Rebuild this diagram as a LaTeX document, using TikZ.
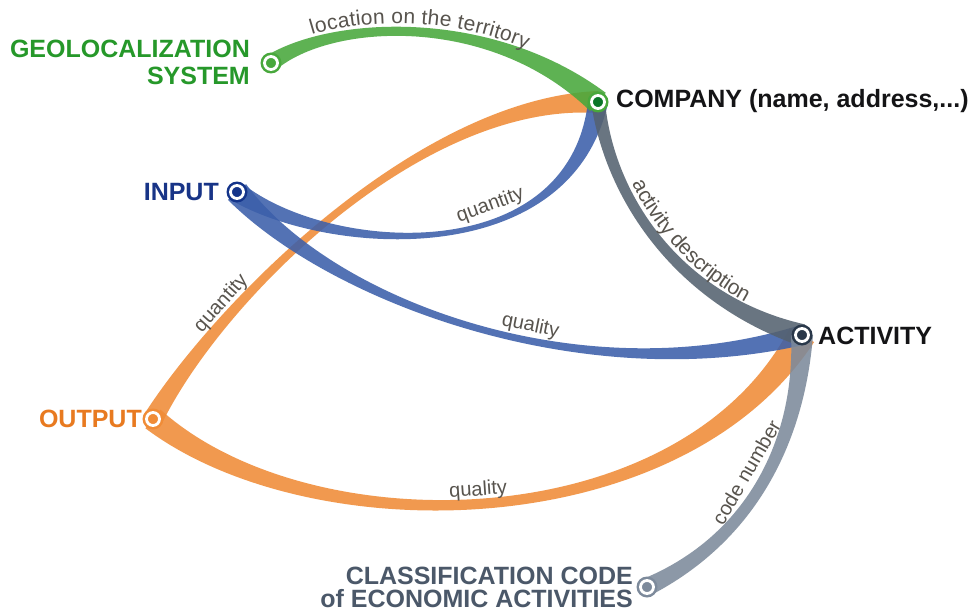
\documentclass[tikz,border=0pt]{standalone}
\usepackage{fontspec}
\setmainfont{Liberation Sans}
\usetikzlibrary{calc,decorations.text}
\definecolor{cGreen}{RGB}{72,168,60}
\definecolor{cGreenTxt}{RGB}{38,152,42}
\definecolor{cGreenDot}{RGB}{10,118,40}
\definecolor{cBlue}{RGB}{60,95,170}
\definecolor{cBlueTxt}{RGB}{24,52,135}
\definecolor{cBlueDot}{RGB}{20,52,138}
\definecolor{cOrange}{RGB}{240,140,55}
\definecolor{cOrangeTxt}{RGB}{232,122,32}
\definecolor{cDark}{RGB}{85,98,112}
\definecolor{cDarkDot}{RGB}{42,56,74}
\definecolor{cLight}{RGB}{125,138,155}
\definecolor{cLightTxt}{RGB}{75,88,105}
\definecolor{cLabel}{RGB}{88,84,78}
\definecolor{cBlack}{RGB}{20,20,22}
\pgfdeclarelayer{bg}
\pgfsetlayers{bg,main}
\newcommand{\labfont}{\fontsize{20}{20}\selectfont}
\newcommand{\labfontb}{\fontsize{21}{21}\selectfont}
% #1 colour, #2 start, #3 ctrl1, #4 ctrl2, #5 end, #6 half width start, #7 half width middle, #8 half width end
\newcommand{\tband}[8]{%
  \fill[#1, bandfill] ($(#2)!#6!90:(#3)$) .. controls ($(#3)!#7!90:(#4)$) and ($(#4)!#7!-90:(#3)$) .. ($(#5)!#8!-90:(#4)$)
    -- ($(#5)!#8!90:(#4)$) .. controls ($(#4)!#7!90:(#3)$) and ($(#3)!#7!-90:(#4)$) .. ($(#2)!#6!-90:(#3)$) -- cycle;}
\begin{document}
\begin{tikzpicture}[x=1pt,y=-1pt,
  hub/.style={circle, draw=white, line width=2.8pt, minimum size=13pt, inner sep=0pt},
  bigtxt/.style={font=\fontsize{25}{27}\selectfont\bfseries, inner sep=0pt},
  lab/.style={font=\labfont, text=cLabel, inner sep=1pt, sloped},
  bandfill/.style={fill opacity=0.88}]
\useasboundingbox (0,0) rectangle (979,615);

% hubs
\node[hub, fill=cGreen] (geo) at (271,63) {};
\node[hub, fill=cGreenDot] (company) at (598,102) {};
\node[hub, fill=cBlueDot] (input) at (237,192) {};
\node[hub, fill=cDarkDot] (activity) at (802,335) {};
\node[hub, fill=cOrange] (output) at (153,419) {};
\node[hub, fill=cLight] (classif) at (647,587) {};

% titles
\node[bigtxt, text=cGreenTxt, align=right, anchor=east] (geoT) at (250,62) {GEOLOCALIZATION\\SYSTEM};
\node[bigtxt, text=cBlack, anchor=west] (companyT) at (616,101) {COMPANY (name, address,...)};
\node[bigtxt, text=cBlueTxt, anchor=east] (inputT) at (219,192) {INPUT};
\node[bigtxt, text=cBlack, anchor=west] (activityT) at (818,336) {ACTIVITY};
\node[bigtxt, text=cOrangeTxt, anchor=east] (outputT) at (142,419) {OUTPUT};
\node[bigtxt, font=\fontsize{25}{23}\selectfont\bfseries, text=cLightTxt, align=right, anchor=east] (classT) at (633,587) {CLASSIFICATION CODE\\of ECONOMIC ACTIVITIES};

% control points
\coordinate (g1) at (330,20);  \coordinate (g2) at (490,10);
\coordinate (oq1) at (220,300); \coordinate (oq2) at (420,100);
\coordinate (ol1) at (310,548); \coordinate (ol2) at (680,542);
\coordinate (bq1) at (330,255); \coordinate (bq2) at (570,270);
\coordinate (bl1) at (330,300); \coordinate (bl2) at (580,395);
\coordinate (d1) at (610,200);  \coordinate (d2) at (680,300);
\coordinate (c1) at (800,440);  \coordinate (c2) at (752,538);

\begin{pgfonlayer}{bg}
  \fill[white] (0,0) rectangle (979,615);
  \tband{cOrange}{output.center}{oq1}{oq2}{company.center}{10pt}{2pt}{11pt}
  \tband{cOrange}{output.center}{ol1}{ol2}{activity.center}{12pt}{4pt}{14pt}
  \tband{cBlue}{input.center}{bq1}{bq2}{company.center}{10pt}{2pt}{10pt}
  \tband{cBlue}{input.center}{bl1}{bl2}{activity.center}{12pt}{1.5pt}{10pt}
  \tband{cDark}{company.center}{d1}{d2}{activity.center}{7pt}{4.5pt}{11pt}
  \tband{cGreen}{geo.center}{g1}{g2}{company.center}{8.5pt}{3.5pt}{12pt}
  \tband{cLight}{activity.center}{c1}{c2}{classif.center}{11pt}{5pt}{9pt}
  \fill[cGreen] (geo.center) circle (10.5pt);
  \fill[cGreen] (company.center) circle (10.5pt);
  \fill[cBlueDot] (input.center) circle (10.5pt);
  \fill[cDarkDot] (activity.center) circle (10.5pt);
  \fill[cOrange] (output.center) circle (10.5pt);
  \fill[cLight] (classif.center) circle (10.5pt);
\end{pgfonlayer}

% labels
\path[decorate, decoration={text along path, text={|\labfontb|location on the territory}, text align={center, right indent=40pt}, raise=8pt, text color=cLabel}]
  (geo.center) .. controls (g1) and (g2) .. (company.center);
\path[decorate, decoration={text along path, text={|\labfontb|activity description}, text align={center, left indent=24pt}, raise=9pt, text color=cLabel}]
  (company.center) .. controls (d1) and (d2) .. (activity.center);
\path (output.center) .. controls (oq1) and (oq2) .. (company.center) node[lab, pos=0.265, above=3pt] {quantity};
\path (output.center) .. controls (ol1) and (ol2) .. (activity.center) node[lab, pos=0.485, above=3pt] {quality};
\path (input.center) .. controls (bq1) and (bq2) .. (company.center) node[lab, pos=0.625, above=6pt] {quantity};
\path (input.center) .. controls (bl1) and (bl2) .. (activity.center) node[lab, pos=0.59, above=4pt] {quality};
\path (activity.center) .. controls (c1) and (c2) .. (classif.center) node[lab, pos=0.5, above=11pt] {code number};
\end{tikzpicture}
\end{document}
